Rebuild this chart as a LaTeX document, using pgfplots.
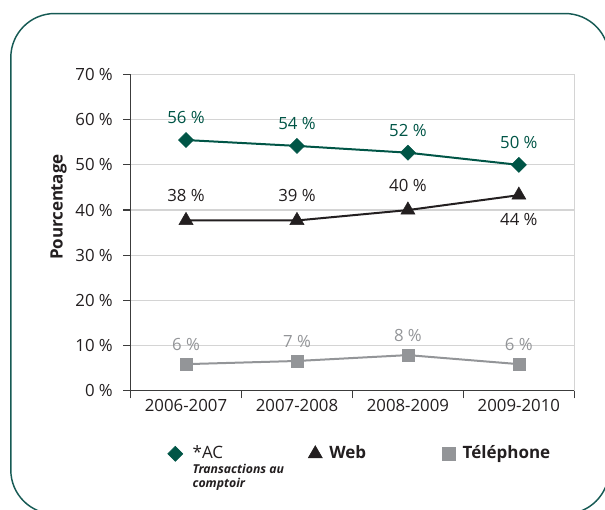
\documentclass[border=0pt]{standalone}
\usepackage{fontspec}
\setmainfont{Open Sans}
\usepackage{pgfplots}
\pgfplotsset{compat=1.18}
\definecolor{acgreen}{RGB}{0,85,70}
\definecolor{webblack}{RGB}{35,31,32}
\definecolor{telgray}{RGB}{147,149,152}
\definecolor{framecol}{RGB}{22,90,84}
\definecolor{gridgray}{RGB}{212,212,212}
\definecolor{axiscol}{RGB}{60,60,60}
\pgfplotsset{
  myleg/.style={legend image code/.code={
    \pgfpathrectangle{\pgfpoint{0pt}{-1.5pt}}{\pgfpoint{18pt}{10.5pt}}\pgfusepath{}
    \draw[##1, only marks] plot coordinates {(7.5pt,3.5pt)};}},
}
\newcommand{\lblfont}{\fontsize{12.6}{14}\selectfont}
\begin{document}
\begin{tikzpicture}[x=1pt,y=1pt]
\useasboundingbox (0,0) rectangle (453.75,381.75);
\begin{scope}
\clip (0,0) rectangle (453.75,381.75);
\draw[framecol, line width=1.1pt, rounded corners=33pt] (8.1,-3.75) rectangle (456.75,371.6);
\end{scope}
\begin{axis}[
  at={(97.9pt,88.65pt)}, anchor=south west,
  scale only axis, width=332.85pt, height=237.2pt,
  clip=false,
  xmin=-0.5, xmax=3.5, ymin=0, ymax=70,
  xtick={-0.5,0.5,1.5,2.5,3.5}, xticklabels={,,,,},
  extra x ticks={0,1,2,3},
  extra x tick labels={2006-2007,2007-2008,2008-2009,2009-2010},
  extra x tick style={major tick length=0pt, grid=none},
  ytick={0,10,...,70},
  yticklabels={0 \%,10 \%,20 \%,30 \%,40 \%,50 \%,60 \%,70 \%},
  axis lines*=left, axis line style={-, axiscol, line width=0.9pt},
  tick align=outside, xtick pos=bottom, ytick pos=left,
  tick style={axiscol, line width=0.9pt},
  major tick length=5.6pt,
  ymajorgrids, grid style={gridgray, line width=0.9pt},
  yticklabel style={font=\lblfont, text=webblack, inner sep=0pt, xshift=-7.5pt},
  xticklabel style={font=\lblfont, text=webblack, inner sep=0pt, yshift=-6pt},
  ylabel={Pourcen\kern-0.9pt tage},
  ylabel style={font=\bfseries\fontsize{12.75}{15}\selectfont, text=webblack, at={(axis description cs:-0.1620,0.581)}, anchor=center},
  after end axis/.code={\draw[gridgray, line width=0.9pt] (rel axis cs:0,1) -- (rel axis cs:1,1) -- (rel axis cs:1,0);},
  legend cell align=left,
  legend style={legend columns=3, draw=none, fill=none, inner sep=0pt, column sep=0pt,
    at={(axis description cs:0.0777,-0.172)}, anchor=north west,
    font=\fontsize{12.75}{15}\selectfont, text=webblack,
    cells={anchor=base west}, nodes={inner sep=0pt}},
]
\addplot[acgreen, line width=1.5pt, mark=square*, mark size=4pt,
  mark options={rotate=45, solid, fill=acgreen, line width=0.4pt}, myleg,
  nodes near coords, point meta=explicit symbolic,
  every node near coord/.append style={anchor=center, yshift=16.9pt, font=\lblfont, text=acgreen, inner sep=0pt}]
  coordinates {(0,55.5) [56 \%] (1,54.2) [54 \%] (2,52.7) [52 \%] (3,50.0) [50 \%]};
\addlegendentry{\makebox[87pt][l]{\hspace{2.5pt}\vtop{\baselineskip=11pt\lineskiplimit=-20pt\hbox{\mdseries *AC}\hbox{\fontsize{9.2}{11}\selectfont\bfseries\itshape Transactions au}\hbox{\fontsize{9.2}{11}\selectfont\bfseries\itshape comptoir}}}}
\addplot[webblack, line width=1.5pt, mark=triangle*, mark size=6.1pt,
  mark options={solid, fill=webblack, line width=0.4pt}, myleg,
  nodes near coords, point meta=explicit symbolic,
  every node near coord/.append style={anchor=center, yshift=18.75pt, font=\lblfont, text=webblack, inner sep=0pt}]
  coordinates {(0,37.7) [38 \%] (1,37.7) [39 \%] (2,40.0) [40 \%] (3,43.3) []};
\addlegendentry{\makebox[82pt][l]{\bfseries Web}}
\addplot[draw=none, mark=none, forget plot,
  nodes near coords, point meta=explicit symbolic,
  every node near coord/.append style={anchor=center, yshift=-18pt, font=\lblfont, text=webblack, inner sep=0pt}]
  coordinates {(3,43.3) [44 \%]};
\addplot[telgray, line width=1.5pt, mark=square*, mark size=4.6pt,
  mark options={solid, fill=telgray, line width=0.3pt}, myleg,
  nodes near coords, point meta=explicit symbolic,
  every node near coord/.append style={anchor=center, yshift=14.6pt, font=\lblfont, text=telgray, inner sep=0pt}]
  coordinates {(0,5.9) [6 \%] (1,6.6) [7 \%] (2,7.9) [8 \%] (3,5.9) [6 \%]};
\addlegendentry{\bfseries Téléphone}
\end{axis}
\end{tikzpicture}
\end{document}
